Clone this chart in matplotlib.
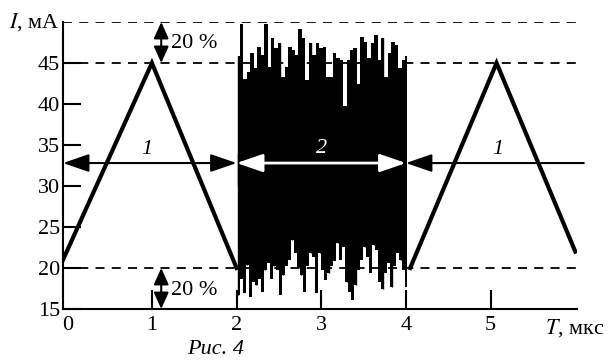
import numpy as np
import matplotlib
matplotlib.use("Agg")
import matplotlib.pyplot as plt
from matplotlib.patches import FancyArrowPatch

plt.rcParams['font.family'] = ['Liberation Serif', 'DejaVu Serif']
plt.rcParams['mathtext.fontset'] = 'stix'

# triangle pulses (regime 1), time in us, current in mA
tri1_t = [-0.05, 1.0, 2.0]
tri1_i = [21, 45, 20]
tri2_t = [4.05, 5.07, 6.0]
tri2_i = [20, 45, 22]

# noise (regime 2): upper peaks and lower troughs
noise_hi = [45.8, 49.8, 43.1, 43.9, 46.2, 44.4, 47.0, 46.0, 49.8, 44.5,
            48.0, 46.8, 47.4, 43.3, 44.5, 47.0, 46.6, 46.0, 49.2, 48.0,
            42.9, 47.4, 46.0, 47.4, 46.8, 47.0, 43.3, 43.3, 46.2, 45.6,
            45.4, 39.7, 45.4, 46.6, 46.8, 42.5, 48.2, 47.6, 45.6, 47.4,
            48.4, 45.4, 48.0, 43.3, 46.2, 47.6, 47.2, 44.4, 45.4, 45.8]
noise_lo = [16.7, 18.7, 16.9, 20.4, 16.5, 18.3, 17.9, 18.7, 17.1, 19.8,
            20.6, 18.7, 20.2, 19.8, 16.7, 19.1, 20.2, 21.0, 23.4, 21.8,
            20.0, 19.1, 17.1, 20.2, 21.8, 21.4, 16.9, 21.8, 19.8, 18.5,
            19.4, 20.2, 20.8, 23.0, 21.0, 22.6, 18.3, 17.1, 16.1, 17.9,
            19.8, 21.0, 22.6, 21.4, 19.4, 22.8, 22.2, 18.3, 17.5, 19.4,
            20.6, 17.7, 20.2, 21.8, 21.0, 19.8, 17.7]

levels = [50, 45, 20]
yticks = [15, 20, 25, 30, 35, 40, 45]
xticks = [0, 1, 2, 3, 4, 5]
arrow_level = 32.8

fig = plt.figure(figsize=(6.11, 3.63), dpi=100)
ax = fig.add_axes([63/611, 54/363, 514/611, 287/363])
ax.set_xlim(-0.05, 6.02)
ax.set_ylim(15, 50)

for lv in levels:
    ax.plot([-0.05, 6.02], [lv, lv], color='black', lw=1.3,
            linestyle=(0, (5, 4)), zorder=1)

ax.plot(tri1_t, tri1_i, color='black', lw=3, solid_joinstyle='miter', zorder=3)
ax.plot(tri2_t, tri2_i, color='black', lw=3, solid_joinstyle='miter', zorder=3)

# noise between 2 and 4 us: skyline of peaks above, troughs below
t_hi = np.linspace(2.02, 4.01, len(noise_hi))
t_lo = np.linspace(2.02, 4.01, len(noise_lo))
ax.fill_between(t_hi, 32, noise_hi, step='mid', color='black', lw=0, zorder=2)
ax.fill_between(t_lo, noise_lo, 32, step='mid', color='black', lw=0, zorder=2)
ax.vlines(t_hi[::3], 30, np.array(noise_hi)[::3], color='black', lw=1.0, zorder=2)
ax.vlines(t_lo[::3], np.array(noise_lo)[::3], 34, color='black', lw=1.0, zorder=2)


def arrow(x0, x1, y, style, color='black', lw=1.5):
    a = FancyArrowPatch((x0, y), (x1, y), arrowstyle=style, mutation_scale=10,
                        color=color, lw=lw, shrinkA=0, shrinkB=0,
                        clip_on=False, zorder=5)
    ax.add_patch(a)


arrow(-0.05, 2.0, arrow_level, '<|-|>,head_length=1.6,head_width=0.55')
arrow(2.0, 4.0, arrow_level, '<|-|>,head_length=1.6,head_width=0.55', color='white', lw=2)
arrow(6.1, 4.0, arrow_level, '-|>,head_length=1.6,head_width=0.55')

ax.text(0.94, 34.4, '1', style='italic', fontsize=16, ha='center', va='center')
ax.text(3.0, 34.6, '2', style='italic', fontsize=16, ha='center', va='center', color='white', zorder=6)
ax.text(5.08, 34.4, '1', style='italic', fontsize=16, ha='center', va='center')

# 20 % markers
arrow_style = '<|-|>,head_length=1.0,head_width=0.45'
for y0, y1, ty in [(50, 45, 47.4), (20, 15, 17.3)]:
    a = FancyArrowPatch((1.11, y0), (1.11, y1), arrowstyle=arrow_style, mutation_scale=10,
                        color='black', lw=1.5, shrinkA=0, shrinkB=0, clip_on=False, zorder=5)
    ax.add_patch(a)
    ax.text(1.22, ty, '20 %', fontsize=16, ha='left', va='center')

ax.spines['top'].set_visible(False)
ax.spines['right'].set_visible(False)
ax.spines['left'].set_linewidth(1.5)
ax.spines['bottom'].set_linewidth(1.5)

ax.set_yticks(yticks)
ax.set_yticklabels([str(v) for v in yticks], fontsize=16)
ax.set_xticks(xticks)
ax.set_xticklabels([str(v) for v in xticks], fontsize=16)
ax.tick_params(axis='y', direction='in', length=13, width=1.5, pad=2)
ax.tick_params(axis='x', direction='in', length=14, width=1.5, pad=5)
ax.xaxis.get_major_ticks()[0].tick1line.set_visible(False)

ax.text(-0.09, 50, '$\\mathit{I}$, мА', fontsize=16, ha='right', va='center')
ax.text(5.64, 14.0, '$\\mathit{T}$, мкс', fontsize=16, ha='left', va='top', clip_on=False)
ax.text(1.75, 10.0, 'Рис. 4', style='italic', fontsize=16, ha='center', va='center')

fig.savefig('out.png', dpi=100)
